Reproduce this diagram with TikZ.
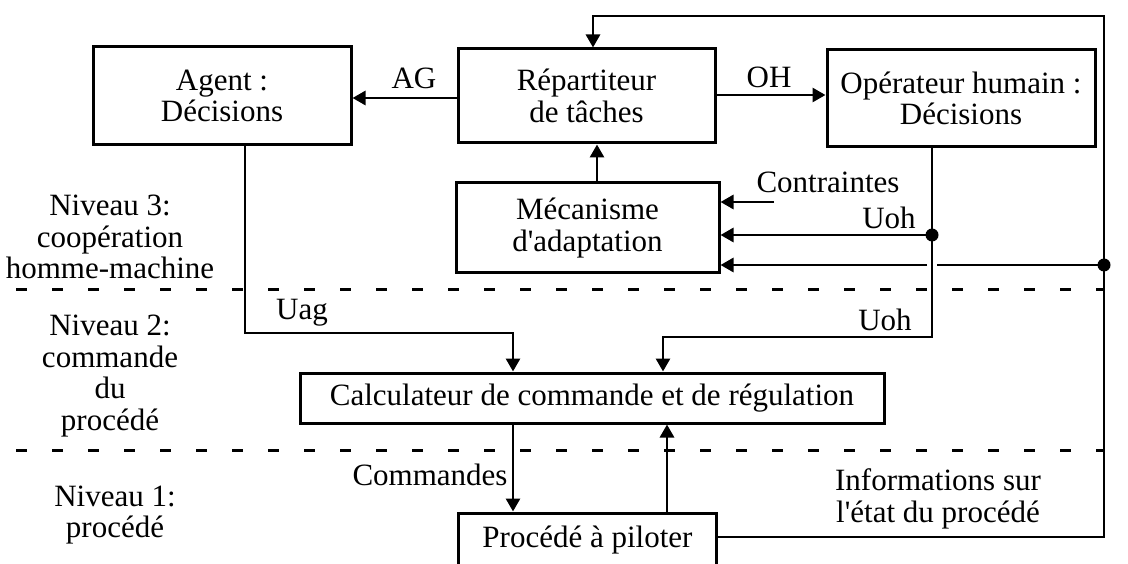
\documentclass[tikz,border=0pt]{standalone}
\usepackage{fontspec}
\setmainfont{Liberation Serif}
\usetikzlibrary{arrows.meta}
\newcommand\diagfont{\fontsize{31}{31.5}\selectfont}
\begin{document}
\begin{tikzpicture}[x=1pt,y=-1pt,
  blk/.style={draw, line width=3pt, inner sep=0pt, align=center, font=\diagfont},
  lbl/.style={inner sep=0pt, align=center, font=\diagfont},
  ln/.style={line width=2.8pt},
  arr/.style={ln, -{Triangle[length=13pt,width=14pt]}},
  sepline/.style={line width=3pt, dash pattern=on 11pt off 25pt},
  dotmark/.style={fill=black}]
\useasboundingbox (0,0) rectangle (1128,564);
\clip (0,0) rectangle (1128,564);

% boxes
\node[blk, minimum width=258pt, minimum height=98pt] (agent) at (222,96) {Agent :\\D\'ecisions};
\node[blk, minimum width=257pt, minimum height=94pt] (rep) at (586.5,96) {R\'epartiteur\\de t\^aches};
\node[blk, minimum width=268pt, minimum height=97pt] (oper) at (961,98.5) {Op\'erateur humain :\\D\'ecisions};
\node[blk, minimum width=263pt, minimum height=90pt] (meca) at (587.5,228) {M\'ecanisme\\d\textquotesingle adaptation};
\node[blk, minimum width=584pt, minimum height=50pt] (calc) at (592,398) {Calculateur de commande et de r\'egulation};
\node[blk, minimum width=258pt, minimum height=54pt] (proc) at (587.5,540) {Proc\'ed\'e \`a piloter};

% labels
\node[lbl] (lAG) at (414,78) {AG};
\node[lbl] (lOH) at (769,77) {OH};
\node[lbl] (lC) at (828,182) {Contraintes};
\node[lbl] (lU1) at (889,218) {Uoh};
\node[lbl] (lUag) at (302,313) {Uag};
\node[lbl] (lU2) at (885,320) {Uoh};
\node[lbl] (lCmd) at (430,475) {Commandes};
\node[lbl] (lInfo) at (938,499) {Informations sur\\l\textquotesingle \'etat du proc\'ed\'e};
\node[lbl] (n3) at (110,237) {Niveau 3:\\coop\'eration\\homme-machine};
\node[lbl] (n2) at (110,376) {Niveau 2:\\commande\\du\\proc\'ed\'e};
\node[lbl] (n1) at (115,515) {Niveau 1:\\proc\'ed\'e};

% level separators
\coordinate (s1a) at (16,290);
\coordinate (s1b) at (1104,290);
\coordinate (s2a) at (16,450);
\coordinate (s2b) at (1104,450);
\draw[sepline] (s1a) -- (s1b);
\draw[sepline] (s2a) -- (s2b);

% helper coordinates
\coordinate (yAG) at (0,98);
\coordinate (yOH) at (0,95);
\coordinate (tl) at (593,16);
\coordinate (tr) at (1104,16);
\coordinate (infoR) at (1104,537);
\coordinate (dotR) at (1104,265);
\coordinate (dotU) at (932,235);
\coordinate (gapR) at (937,265);
\coordinate (gapL) at (927,265);
\coordinate (cT) at (774,202);
\coordinate (ohK) at (932,337);
\coordinate (ohK2) at (663,337);
\coordinate (agK) at (245,333);
\coordinate (agK2) at (513,333);
\coordinate (mUp) at (597,0);
\coordinate (cmdX) at (513,0);
\coordinate (upX) at (667,0);

% connectors
\draw[arr] (rep.west |- yAG) -- (agent.east |- yAG);
\draw[arr] (rep.east |- yOH) -- (oper.west |- yOH);
\draw[arr] (mUp |- meca.north) -- (mUp |- rep.south);
\draw[arr] (proc.east |- infoR) -- (infoR) -- (tr) -- (tl) -- (tl |- rep.north);
\draw[arr] (cT) -- (cT -| meca.east);
\draw[arr] (dotU) -- (dotU -| meca.east);
\draw[ln] (dotR) -- (gapR);
\draw[arr] (gapL) -- (gapL -| meca.east);
\draw[arr] (dotU |- oper.south) -- (ohK) -- (ohK2) -- (ohK2 |- calc.north);
\draw[arr] (agK |- agent.south) -- (agK) -- (agK2) -- (agK2 |- calc.north);
\draw[arr] (cmdX |- calc.south) -- (cmdX |- proc.north);
\draw[arr] (upX |- proc.north) -- (upX |- calc.south);
\fill[dotmark] (dotU) circle (6.5pt);
\fill[dotmark] (dotR) circle (6.5pt);
\end{tikzpicture}
\end{document}
